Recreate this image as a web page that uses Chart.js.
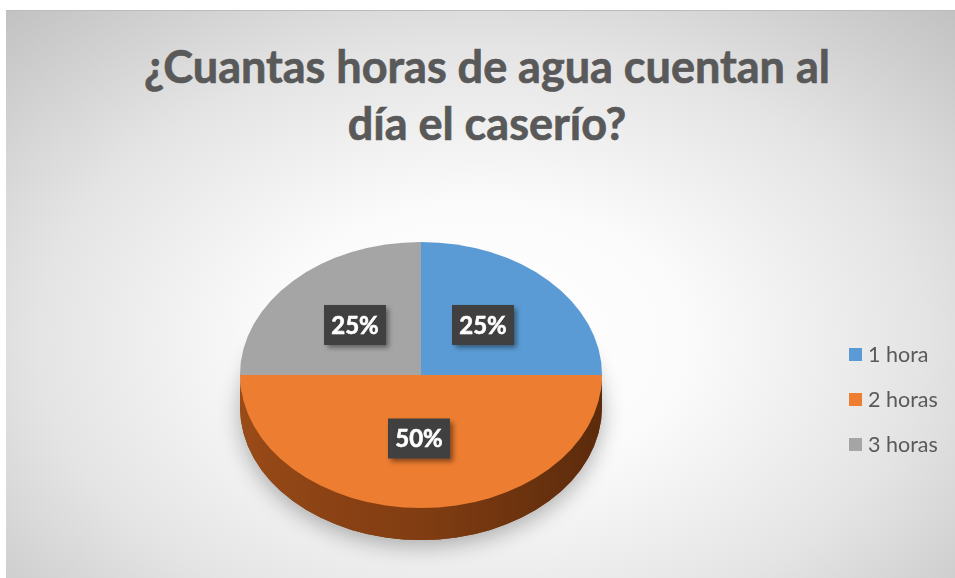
<!DOCTYPE html>
<html lang="es">
<head>
<meta charset="UTF-8">
<title>¿Cuantas horas de agua cuentan al día el caserío?</title>
<script src="https://cdn.jsdelivr.net/npm/chart.js"></script>
<style>
  html, body { margin: 0; padding: 0; background: #fff; }
  #frame {
    position: absolute; left: 6px; top: 10px; width: 949px; height: 568px;
    background: radial-gradient(ellipse 72% 80% at 50% 58%, #ffffff 0%, #fbfbfb 30%, #e4e4e4 65%, #c2c2c2 100%);
    border-top: 1px solid #bcbcbc;
  }
  #title {
    position: absolute; left: 0; top: 38px; width: 974px; text-align: center;
    font: bold 45px Lato, sans-serif; line-height: 57px; color: #595959;
    -webkit-text-stroke: 0.7px #595959;
  }
  #pie { position: absolute; left: 0; top: 0; }
  .item {
    position: absolute; left: 849px; height: 24px; display: flex; align-items: center;
    font: 21.5px Lato, sans-serif; color: #595959;
  }
  .item span.box { width: 13px; height: 13px; margin-right: 6px; display: inline-block; }
</style>
</head>
<body>
<div id="frame"></div>
<div id="title">¿Cuantas horas de agua cuentan al<br>día el caserío?</div>
<canvas id="pie" width="955" height="578"></canvas>
<div id="legend"></div>

<script>
// datos del gráfico
const categories = ['1 hora', '2 horas', '3 horas'];
const percentages = [25, 50, 25];
const sliceColors = ['#5B9BD5', '#ED7D31', '#A5A5A5'];
const sideColors = ['#3f6f9c', '#8c4213', '#777777'];

// inclinación del pastel (alto / ancho de la cara superior) y grosor en px
const TILT = 133 / 181;
const DEPTH = 32;

// leyenda a la derecha
const legend = document.getElementById('legend');
categories.forEach((name, i) => {
  const div = document.createElement('div');
  div.className = 'item';
  div.style.top = (342 + i * 45) + 'px';
  div.innerHTML = '<span class="box" style="background:' + sliceColors[i] + '"></span>' + name;
  legend.appendChild(div);
});

// dibuja el pastel "3D": lado oscuro debajo, cara superior aplastada
const pie3d = {
  id: 'pie3d',
  beforeDatasetsDraw(chart) {
    const ctx = chart.ctx;
    const arcs = chart.getDatasetMeta(0).data;
    const cx = arcs[0].x, cy = arcs[0].y, r = arcs[0].outerRadius;
    const d = DEPTH / TILT;

    ctx.save();
    ctx.translate(cx, cy);
    ctx.scale(1, TILT);
    ctx.translate(-cx, -cy);

    // sombra suave
    ctx.save();
    ctx.shadowColor = 'rgba(0,0,0,0.3)';
    ctx.shadowBlur = 22;
    ctx.shadowOffsetY = 6;
    ctx.fillStyle = '#7a3a10';
    ctx.beginPath();
    ctx.arc(cx, cy + d, r, 0, Math.PI * 2);
    ctx.fill();
    ctx.restore();

    // lados de cada porción (solo la mitad delantera)
    arcs.forEach((arc, i) => {
      const a = Math.max(arc.startAngle, 0);
      const b = Math.min(arc.endAngle, Math.PI);
      if (a >= b) return;
      ctx.beginPath();
      ctx.arc(cx, cy, r, a, b);
      ctx.arc(cx, cy + d, r, b, a, true);
      ctx.closePath();
      ctx.fillStyle = sideColors[i];
      ctx.fill();
      const shade = ctx.createLinearGradient(cx - r, 0, cx + r, 0);
      shade.addColorStop(0, 'rgba(255,140,60,0.12)');
      shade.addColorStop(0.5, 'rgba(0,0,0,0.08)');
      shade.addColorStop(1, 'rgba(0,0,0,0.35)');
      ctx.fillStyle = shade;
      ctx.fill();
    });
    // la cara superior se dibuja con esta misma transformación
  },
  afterDatasetsDraw(chart) {
    const ctx = chart.ctx;
    ctx.restore();
    const arcs = chart.getDatasetMeta(0).data;
    const cy = arcs[0].y;
    arcs.forEach((arc, i) => {
      const p = arc.tooltipPosition();
      const x = p.x - 2, y = cy + (p.y - cy) * TILT - 3;
      ctx.save();
      ctx.shadowColor = 'rgba(0,0,0,0.45)';
      ctx.shadowBlur = 5;
      ctx.shadowOffsetX = 3;
      ctx.shadowOffsetY = 3;
      ctx.fillStyle = '#404040';
      ctx.fillRect(x - 31, y - 20, 62, 40);
      ctx.restore();
      ctx.fillStyle = '#ffffff';
      ctx.strokeStyle = '#ffffff';
      ctx.lineWidth = 0.6;
      ctx.font = 'bold 24px Lato, sans-serif';
      ctx.textAlign = 'center';
      ctx.textBaseline = 'middle';
      ctx.fillText(percentages[i] + '%', x, y + 1);
      ctx.strokeText(percentages[i] + '%', x, y + 1);
    });
  }
};

new Chart(document.getElementById('pie'), {
  type: 'pie',
  data: {
    labels: categories,
    datasets: [{
      data: percentages,
      backgroundColor: sliceColors,
      borderWidth: 0
    }]
  },
  options: {
    responsive: false,
    animation: false,
    events: [],
    layout: { padding: { left: 240, right: 353, top: 194, bottom: 22 } },
    plugins: {
      legend: { display: false },
      tooltip: { enabled: false }
    }
  },
  plugins: [pie3d]
});
</script>
</body>
</html>
